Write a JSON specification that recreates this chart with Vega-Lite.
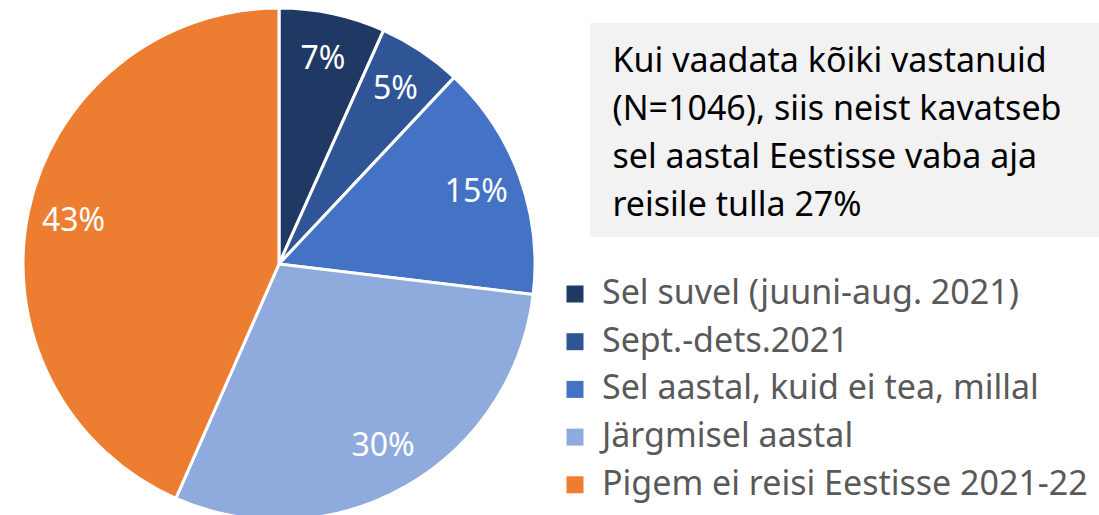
{
  "$schema": "https://vega.github.io/schema/vega-lite/v6.json",
  "padding": {"left": 0, "top": 2, "right": 0, "bottom": 0},
  "background": "white",
  "spacing": 32,
  "config": {"view": {"stroke": null}, "font": "Noto Sans"},
  "datasets": {
    "slices": [
      {"order": 1, "category": "Sel suvel (juuni-aug. 2021)", "share": 0.067},
      {"order": 2, "category": "Sept.-dets.2021", "share": 0.053},
      {"order": 3, "category": "Sel aastal, kuid ei tea, millal", "share": 0.149},
      {"order": 4, "category": "Järgmisel aastal", "share": 0.297},
      {"order": 5, "category": "Pigem ei reisi Eestisse 2021-22", "share": 0.434}
    ],
    "note": [
      {"line": 1, "text": "Kui vaadata kõiki vastanuid"},
      {"line": 2, "text": "(N=1046), siis neist kavatseb"},
      {"line": 3, "text": "sel aastal Eestisse vaba aja"},
      {"line": 4, "text": "reisile tulla 27%"}
    ]
  },
  "hconcat": [
    {
      "width": 558,
      "height": 482,
      "data": {"name": "slices"},
      "encoding": {
        "theta": {"field": "share", "type": "quantitative", "stack": true},
        "order": {"field": "order", "type": "quantitative"},
        "color": {
          "field": "category",
          "type": "nominal",
          "sort": null,
          "scale": {
            "domain": ["Sel suvel (juuni-aug. 2021)", "Sept.-dets.2021", "Sel aastal, kuid ei tea, millal", "Järgmisel aastal", "Pigem ei reisi Eestisse 2021-22"],
            "range": ["#203864", "#2F5597", "#4472C4", "#8FAADC", "#ED7D31"]
          },
          "legend": {
            "orient": "none",
            "legendX": 558,
            "legendY": 254,
            "title": null,
            "padding": 0,
            "symbolType": "square",
            "symbolSize": 289,
            "symbolStrokeWidth": 0,
            "labelFont": "Noto Sans",
            "labelFontSize": 34,
            "labelColor": "#595959",
            "labelOffset": 10,
            "labelLimit": 700,
            "rowPadding": 13.7
          }
        }
      },
      "layer": [
        {"mark": {"type": "arc", "outerRadius": 256, "stroke": "white", "strokeWidth": 3}},
        {
          "mark": {"type": "text", "radius": 210, "fontSize": 32, "font": "Noto Sans"},
          "encoding": {
            "text": {"field": "share", "type": "quantitative", "format": ".0%"},
            "color": {"value": "white"}
          }
        }
      ]
    },
    {
      "width": 509,
      "height": 214,
      "view": {"fill": "#f2f2f2", "stroke": null},
      "data": {"name": "note"},
      "mark": {"type": "text", "align": "left", "baseline": "middle", "dx": -232, "dy": 4, "fontSize": 34, "font": "Noto Sans", "color": "#000000"},
      "encoding": {
        "y": {"field": "line", "type": "ordinal", "axis": null, "scale": {"padding": 0.743}},
        "text": {"field": "text"}
      }
    }
  ]
}
